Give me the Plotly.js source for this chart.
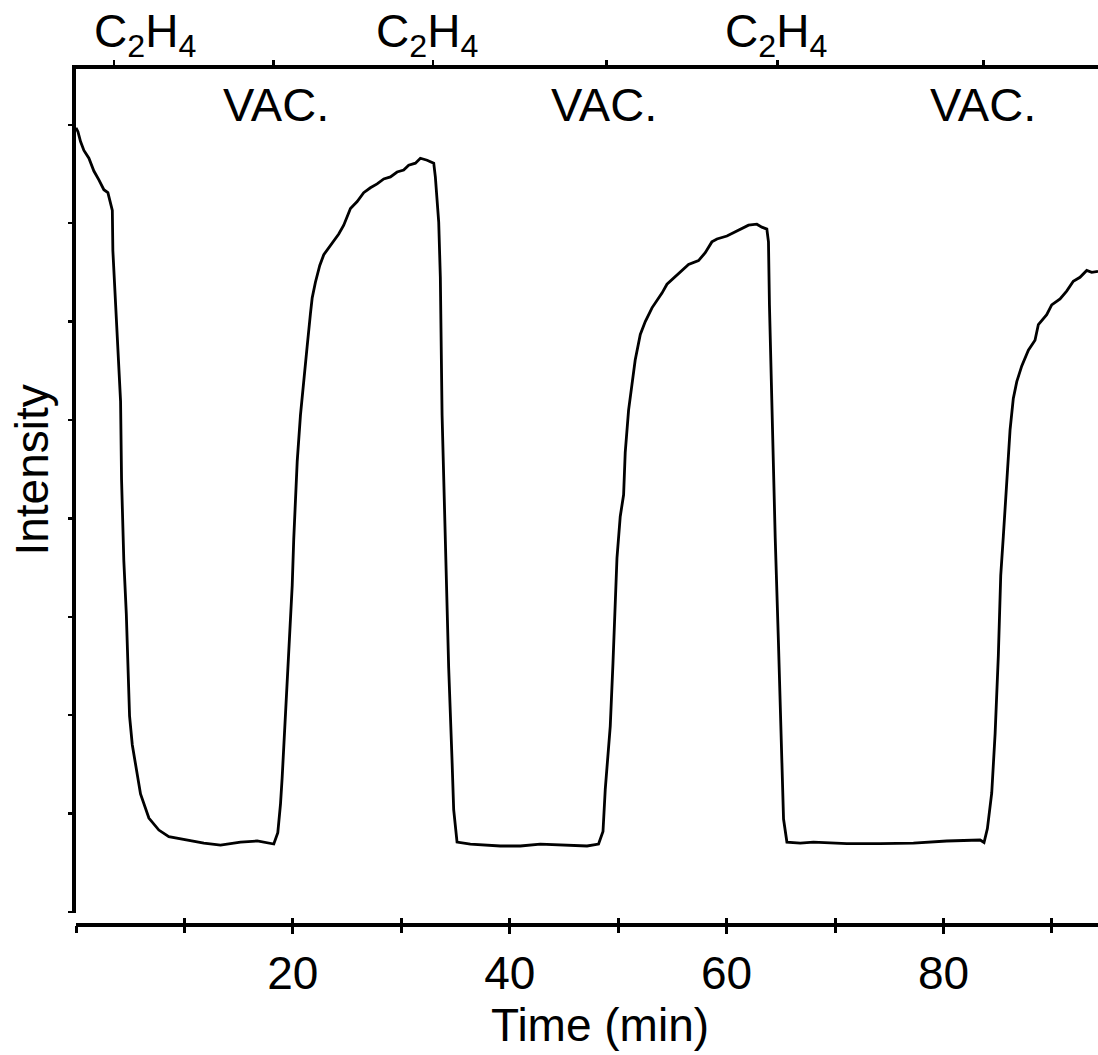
<!DOCTYPE html>
<html>
<head>
<meta charset="utf-8">
<script src="https://cdn.plot.ly/plotly-3.0.1.min.js"></script>
<style>html,body{margin:0;padding:0;background:#fff;}#chart{width:1098px;height:1055px;}</style>
</head>
<body>
<div id="chart"></div>
<script>
// Time (min)
const time = [0.0,0.18,0.42,0.73,1.19,1.65,2.11,2.57,2.94,3.19,3.35,3.40,3.59,3.95,4.11,4.20,4.41,4.64,4.78,4.94,5.19,5.65,5.95,6.72,7.64,8.56,10.26,11.79,13.33,15.17,16.71,18.24,18.61,18.86,
19.01,19.32,19.62,19.94,20.08,20.40,20.70,21.00,21.32,21.62,21.78,22.08,22.48,22.85,23.47,24.23,24.69,25.31,25.93,26.53,27.15,27.77,28.38,29.00,29.61,30.22,30.68,31.30,31.76,32.38,32.99,
33.14,33.45,33.60,33.76,34.07,34.37,34.68,34.83,35.14,36.37,39.13,40.98,42.82,44.66,47.13,48.19,48.60,48.81,49.27,49.52,49.89,50.19,50.50,50.65,50.96,51.27,51.57,52.04,52.50,53.12,53.58,54.04,54.50,55.11,55.88,56.49,57.41,58.03,58.64,59.11,60.03,60.79,61.41,62.02,62.79,63.25,63.71,
63.86,63.95,64.17,64.48,64.78,65.03,65.25,65.56,66.79,68.01,71.09,74.16,77.23,80.30,82.15,83.38,83.74,84.05,84.45,84.76,85.06,85.28,85.52,85.83,86.14,86.44,86.76,87.22,87.83,88.44,88.75,89.52,89.98,90.75,91.36,91.97,92.59,93.21,93.67,94.25];
// Intensity (a.u.)
const intensity = [7.97,7.93,7.83,7.74,7.66,7.53,7.44,7.34,7.31,7.19,7.13,6.72,6.28,5.59,5.19,4.40,3.57,3.03,2.48,1.99,1.70,1.40,1.20,0.955,0.833,0.767,0.732,0.701,0.681,0.711,0.722,0.691,0.807,1.10,
1.36,2.01,2.71,3.32,3.79,4.58,5.05,5.42,5.75,6.08,6.24,6.40,6.57,6.68,6.77,6.89,6.98,7.15,7.22,7.31,7.36,7.40,7.45,7.47,7.52,7.54,7.59,7.61,7.66,7.64,7.61,
7.47,7.01,6.45,5.05,3.65,2.48,1.54,1.04,0.711,0.691,0.671,0.671,0.691,0.681,0.671,0.691,0.818,1.25,1.89,2.53,3.60,4.02,4.24,4.67,5.10,5.36,5.61,5.87,6.00,6.14,6.21,6.29,6.38,6.44,6.51,6.58,6.62,6.70,6.81,6.84,6.87,6.91,6.95,6.98,6.99,6.96,6.94,
6.81,6.17,5.10,3.81,2.74,1.68,0.945,0.711,0.701,0.711,0.695,0.695,0.701,0.722,0.732,0.732,0.707,0.848,1.21,1.81,2.61,3.42,3.82,4.42,4.90,5.22,5.39,5.55,5.71,5.81,5.97,6.07,6.17,6.23,6.31,6.41,6.45,6.52,6.50,6.51];

// Bottom axis: all ticks every 10 min, labels only at these
const xTickVals = [0,10,20,30,40,50,60,70,80,90];
const xLabelVals = [20,40,60,80];
const xLabelText = ["20","40","60","80"];
// Left axis ticks (unlabelled)
const yTickVals = [0,1,2,3,4,5,6,7,8];
// Gas switching times (top axis ticks)
const switchTimes = [3.5,18.2,32.9,48.9,64.7,83.7];
// Phase labels
const c2h4Labels = ["C<sub>2</sub>H<sub>4</sub>","C<sub>2</sub>H<sub>4</sub>","C<sub>2</sub>H<sub>4</sub>"];
const c2h4LabelX = [6.4,32.4,64.6];
const vacLabels = ["VAC.","VAC.","VAC."];
const vacLabelX = [18.4,48.7,83.6];
// Axis titles
const xTitle = "Time (min)";
const yTitle = "Intensity";

const FONT = "Liberation Sans, Arial, Helvetica, sans-serif";
const FS = 46;
const xRange = [0, 94.25];

const annotations = [];
c2h4Labels.forEach((t,i)=>annotations.push({
  text:t, x:c2h4LabelX[i], xref:'x', y:1.04, yref:'paper',
  xanchor:'center', yanchor:'middle', showarrow:false,
  font:{family:FONT,size:FS,color:'#000'}
}));
vacLabels.forEach((t,i)=>annotations.push({
  text:t, x:vacLabelX[i], xref:'x', y:0.958, yref:'paper',
  xanchor:'center', yanchor:'middle', showarrow:false,
  font:{family:FONT,size:FS+1,color:'#000'}
}));
// axis titles placed to match the reference positions
annotations.push({
  text:yTitle, textangle:-90, x:-0.0435, xref:'paper', y:0.5315, yref:'paper',
  xanchor:'center', yanchor:'middle', showarrow:false,
  font:{family:FONT,size:FS,color:'#000'}
});
annotations.push({
  text:xTitle, x:0.513, xref:'paper', y:-0.1165, yref:'paper',
  xanchor:'center', yanchor:'middle', showarrow:false,
  font:{family:FONT,size:FS,color:'#000'}
});

const data = [{
  x: time, y: intensity, type:'scatter', mode:'lines',
  line:{color:'#000', width:2.8}, hoverinfo:'skip', showlegend:false
}];

const tickCommon = {tickcolor:'#000', showgrid:false, zeroline:false};

const layout = {
  width:1098, height:1055,
  margin:{l:76, r:0, t:69, b:130, pad:0},
  paper_bgcolor:'#fff', plot_bgcolor:'#fff',
  font:{family:FONT, size:FS, color:'#000'},
  showlegend:false,
  xaxis:Object.assign({
    range:xRange, anchor:'free', position:0,
    showline:true, linecolor:'#000', linewidth:4,
    ticks:'outside', ticklen:7, tickwidth:3,
    tickvals:xLabelVals, ticktext:xLabelText,
    tickfont:{family:FONT,size:FS,color:'#000'}
  }, tickCommon),
  xaxis4:Object.assign({
    range:xRange, overlaying:'x', anchor:'free', position:0,
    showline:false, ticks:'outside', ticklen:7, tickwidth:3,
    tickvals:xTickVals, showticklabels:false
  }, tickCommon),
  xaxis3:Object.assign({
    range:xRange, overlaying:'x', anchor:'free', position:0,
    showline:false, ticks:'inside', ticklen:7, tickwidth:3,
    tickvals:xTickVals, showticklabels:false
  }, tickCommon),
  xaxis2:Object.assign({
    range:xRange, overlaying:'x', side:'top', anchor:'y',
    showline:true, linecolor:'#000', linewidth:4,
    ticks:'outside', ticklen:5, tickwidth:2.5,
    tickvals:switchTimes, showticklabels:false
  }, tickCommon),
  yaxis:Object.assign({
    domain:[0.014,1], range:[-0.01,8.567],
    showline:true, linecolor:'#000', linewidth:4,
    ticks:'outside', ticklen:4, tickwidth:2.5,
    tickvals:yTickVals, showticklabels:false
  }, tickCommon),
  annotations: annotations
};

// Invisible anchor traces so the overlay axes are drawn
['x2','x3','x4'].forEach(ax=>data.push({x:[0], y:[0], xaxis:ax, yaxis:'y', mode:'markers', marker:{opacity:0}, hoverinfo:'skip', showlegend:false}));

Plotly.newPlot('chart', data, layout, {displayModeBar:false, staticPlot:true});
</script>
</body>
</html>
